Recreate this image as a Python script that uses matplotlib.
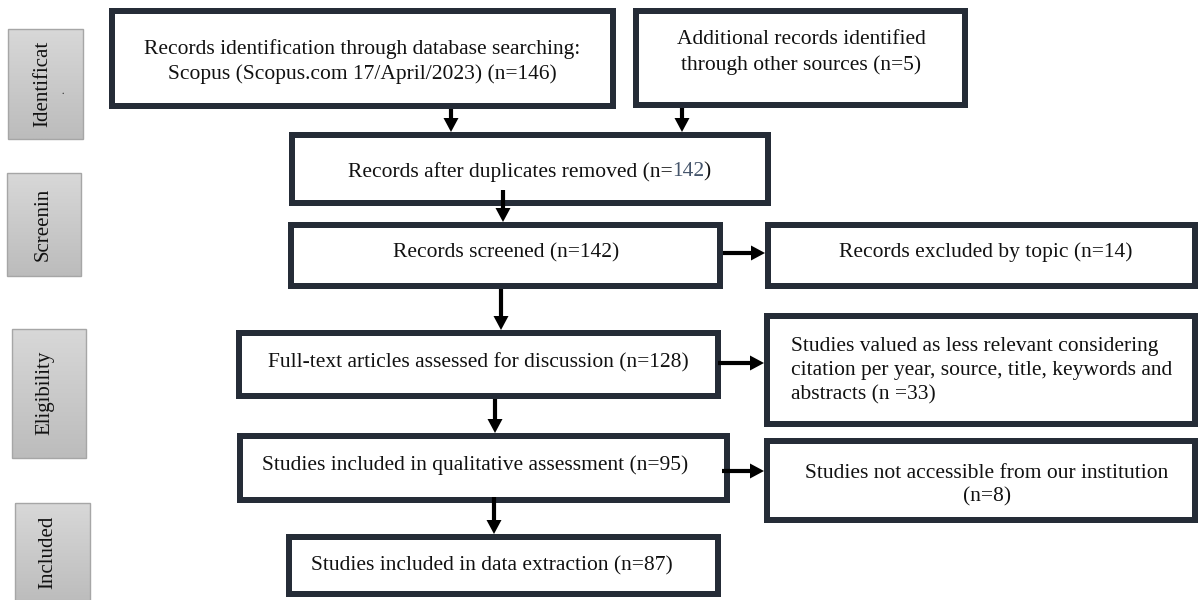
import numpy as np
import matplotlib
matplotlib.use("Agg")
import matplotlib.pyplot as plt
from matplotlib.patches import Rectangle, Polygon

plt.rcParams['font.family'] = ['Liberation Serif', 'DejaVu Serif']

# stage names down the left side (cut off in the original figure)
stages = ["Identificat", "Screenin", "Eligibility", "Included"]

# record counts at each step of the review
n_database = 146
n_other = 5
n_after_dup = 142
n_screened = 142
n_excl_topic = 14
n_fulltext = 128
n_less_relevant = 33
n_qualitative = 95
n_not_access = 8
n_extraction = 87

box_texts = [
    ["Records identification through database searching:",
     f"Scopus (Scopus.com 17/April/2023) (n={n_database})"],
    ["Additional records identified",
     f"through other sources (n={n_other})"],
    None,  # duplicates box, drawn with a coloured number below
    [f"Records screened (n={n_screened})"],
    [f"Records excluded by topic (n={n_excl_topic})"],
    [f"Full-text articles assessed for discussion (n={n_fulltext})"],
    ["Studies valued as less relevant considering",
     "citation per year, source, title, keywords and",
     f"abstracts (n ={n_less_relevant})"],
    [f"Studies included in qualitative assessment (n={n_qualitative})"],
    ["Studies not accessible from our institution",
     f"(n={n_not_access})"],
    [f"Studies included in data extraction (n={n_extraction})"],
]

# layout in pixels (x0, y0, x1, y1), y going down
box_rects = [
    (109, 8, 616, 109), (633, 8, 968, 108), (289, 132, 771, 206),
    (288, 222, 723, 289), (765, 222, 1198, 289), (236, 330, 721, 399),
    (764, 313, 1198, 427), (237, 433, 730, 503), (764, 438, 1198, 523),
    (286, 534, 721, 597),
]
text_x = [362, 801, 530, 506, 986, 478, 791, 475, 987, 492]
text_ys = [[47, 72], [37, 63], [170], [251], [250], [361],
           [344, 368, 393], [463], [471, 495], [564]]
text_ha = ['center'] * 6 + ['left'] + ['center'] * 3
Y_SHIFT = 2

stage_rects = [(8, 29, 83, 139), (7, 173, 81, 276),
               (12, 329, 86, 458), (15, 503, 90, 603)]
stage_xy = [(43, 84), (43, 224), (45, 393), (48, 552)]

arrows = [
    ((451, 109), (451, 132)), ((682, 108), (682, 132)),
    ((503, 190), (503, 222)), ((723, 253), (765, 253)),
    ((501, 289), (501, 330)), ((495, 399), (495, 433)),
    ((718, 363), (764, 363)), ((494, 497), (494, 534)),
    ((722, 471), (764, 471)),
]

EDGE = '#252c37'
LW_PX = 6
FS = 15.5

fig = plt.figure(figsize=(12, 6), dpi=100)
ax = fig.add_axes([0, 0, 1, 1])
ax.axis('off')

# grey gradient stage labels
grad = np.linspace(0, 1, 100).reshape(-1, 1)
gcmap = matplotlib.colors.LinearSegmentedColormap.from_list('g', ['#d8d8d8', '#bcbcbc'])
for (x0, y0, x1, y1), name, (tx, ty) in zip(stage_rects, stages, stage_xy):
    ax.imshow(grad, extent=(x0, x1, y1, y0), origin='upper', aspect='auto',
              cmap=gcmap, zorder=1)
    ax.add_patch(Rectangle((x0, y0), x1 - x0, y1 - y0, fill=False,
                           edgecolor='#a6a6a6', lw=1, zorder=2))
    ax.text(tx, ty, name, rotation=90, ha='center', va='center',
            fontsize=15, color='#111111', zorder=3)
ax.text(61, 92, '.', rotation=90, ha='center', va='center', fontsize=9,
        color='#444444', zorder=3)

# flow boxes
for (x0, y0, x1, y1) in box_rects:
    h = LW_PX / 2
    ax.add_patch(Rectangle((x0 + h, y0 + h), x1 - x0 - LW_PX, y1 - y0 - LW_PX,
                           facecolor='white', edgecolor=EDGE,
                           lw=LW_PX * 0.72, zorder=2))

for lines, x, ys, ha in zip(box_texts, text_x, text_ys, text_ha):
    if lines is None:
        continue
    for line, y in zip(lines, ys):
        ax.text(x, y + Y_SHIFT, line, ha=ha, va='center', fontsize=FS,
                color='#111111', zorder=4)

ax.set_xlim(0, 1200)
ax.set_ylim(600, 0)

# duplicates box text, number in blue-grey
parts = [("Records after duplicates removed (n=", '#111111'),
         (str(n_after_dup), '#44546a'), (")", '#111111')]
kern = [0, 0, -2]
renderer = fig.canvas.get_renderer()
prefix_w = []
acc = ""
for p, c in parts:
    acc += p
    t = ax.text(0, 0, acc, fontsize=FS)
    prefix_w.append(t.get_window_extent(renderer).width)
    t.remove()
x_start = text_x[2] - prefix_w[-1] / 2
starts = [0] + prefix_w[:-1]
for (p, c), s, k in zip(parts, starts, kern):
    ax.text(x_start + s + k, text_ys[2][0] + Y_SHIFT, p, ha='left', va='center',
            fontsize=FS, color=c, zorder=4)

# arrows
HEAD_L, HEAD_W = 14, 15
for (xa, ya), (xb, yb) in arrows:
    d = np.array([xb - xa, yb - ya], float)
    u = d / np.hypot(*d)
    p = np.array([-u[1], u[0]])
    base = np.array([xb, yb]) - u * HEAD_L
    ax.plot([xa, base[0]], [ya, base[1]], color='black', lw=3,
            solid_capstyle='butt', zorder=5)
    ax.add_patch(Polygon([(xb, yb), base + p * HEAD_W / 2, base - p * HEAD_W / 2],
                         closed=True, facecolor='black', edgecolor='none',
                         zorder=5))

fig.savefig('out.png', dpi=100)
